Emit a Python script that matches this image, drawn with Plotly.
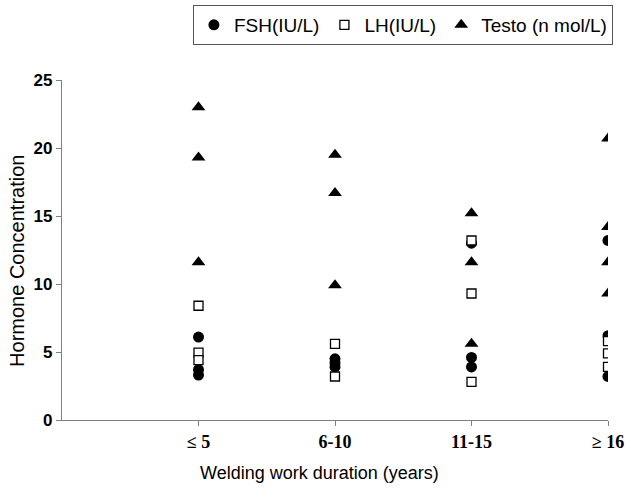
import plotly.graph_objects as go

categories = ["≤ 5", "6-10", "11-15", "≥ 16"]

fsh_cat = ["≤ 5", "≤ 5", "≤ 5", "6-10", "6-10", "6-10", "11-15", "11-15", "11-15", "≥ 16", "≥ 16", "≥ 16"]
fsh_val = [6.1, 3.7, 3.3, 4.5, 4.2, 3.9, 13.0, 4.6, 3.9, 13.2, 6.2, 3.2]

lh_cat = ["≤ 5", "≤ 5", "≤ 5", "6-10", "6-10", "11-15", "11-15", "11-15", "≥ 16", "≥ 16", "≥ 16"]
lh_val = [8.4, 4.95, 4.4, 5.6, 3.2, 13.2, 9.3, 2.8, 5.8, 4.9, 3.9]

testo_cat = ["≤ 5", "≤ 5", "≤ 5", "6-10", "6-10", "6-10", "11-15", "11-15", "11-15", "≥ 16", "≥ 16", "≥ 16", "≥ 16"]
testo_val = [23.0, 19.3, 11.6, 19.5, 16.7, 9.9, 15.2, 11.6, 5.6, 20.7, 14.2, 11.6, 9.3]

y_ticks = [0, 5, 10, 15, 20, 25]

fig = go.Figure()
fig.add_trace(go.Scatter(x=fsh_cat, y=fsh_val, mode="markers", name="FSH(IU/L)",
                         marker=dict(symbol="circle", size=11, color="black")))
fig.add_trace(go.Scatter(x=lh_cat, y=lh_val, mode="markers", name="LH(IU/L)",
                         marker=dict(symbol="square", size=9, color="white",
                                     line=dict(color="black", width=1.3))))
fig.add_trace(go.Scatter(x=testo_cat, y=testo_val, mode="markers", name="Testo (n mol/L)",
                         marker=dict(symbol="triangle-up", size=12, color="black")))

fig.update_layout(
    width=626, height=491,
    margin=dict(l=62, r=18, t=80, b=71, autoexpand=False),
    paper_bgcolor="white", plot_bgcolor="white",
    showlegend=True,
    legend=dict(orientation="h", x=1.009, xanchor="right", y=1.2206, yanchor="top",
                bordercolor="#555555", borderwidth=1,
                font=dict(family="Liberation Sans, Arial", size=19, color="black"),
                itemwidth=30, tracegroupgap=0),
    font=dict(family="Liberation Sans, Arial", color="black"),
    annotations=[
        dict(text="Welding work duration (years)", xref="paper", yref="paper",
             x=0.4725, y=-0.156, xanchor="center", yanchor="middle", showarrow=False,
             font=dict(family="Liberation Sans, Arial", size=18, color="black")),
        dict(text="Hormone Concentration", xref="paper", yref="paper", textangle=-90,
             x=-0.0824, y=0.468, xanchor="center", yanchor="middle", showarrow=False,
             font=dict(family="Liberation Sans, Arial", size=20, color="black")),
    ],
)
fig.update_xaxes(
    type="category", categoryorder="array", categoryarray=categories,
    range=[-1, 3], showline=True, linecolor="#808080", linewidth=1.2, automargin=False,
    ticks="outside", ticklen=5, tickcolor="#808080", showgrid=False, zeroline=False,
    tickfont=dict(family="Liberation Serif, Times New Roman", size=18, color="black", weight="bold"),
)
fig.update_yaxes(
    range=[0, 25], tickvals=y_ticks, showline=True, linecolor="#808080", linewidth=1.2,
    automargin=False,
    ticks="outside", ticklen=5, tickcolor="#808080", showgrid=False, zeroline=False,
    tickfont=dict(family="Liberation Sans, Arial", size=17, color="black", weight="bold"),
)

fig.write_html("out.html", config={"displayModeBar": False},
               post_script="document.body.style.margin='0';")
